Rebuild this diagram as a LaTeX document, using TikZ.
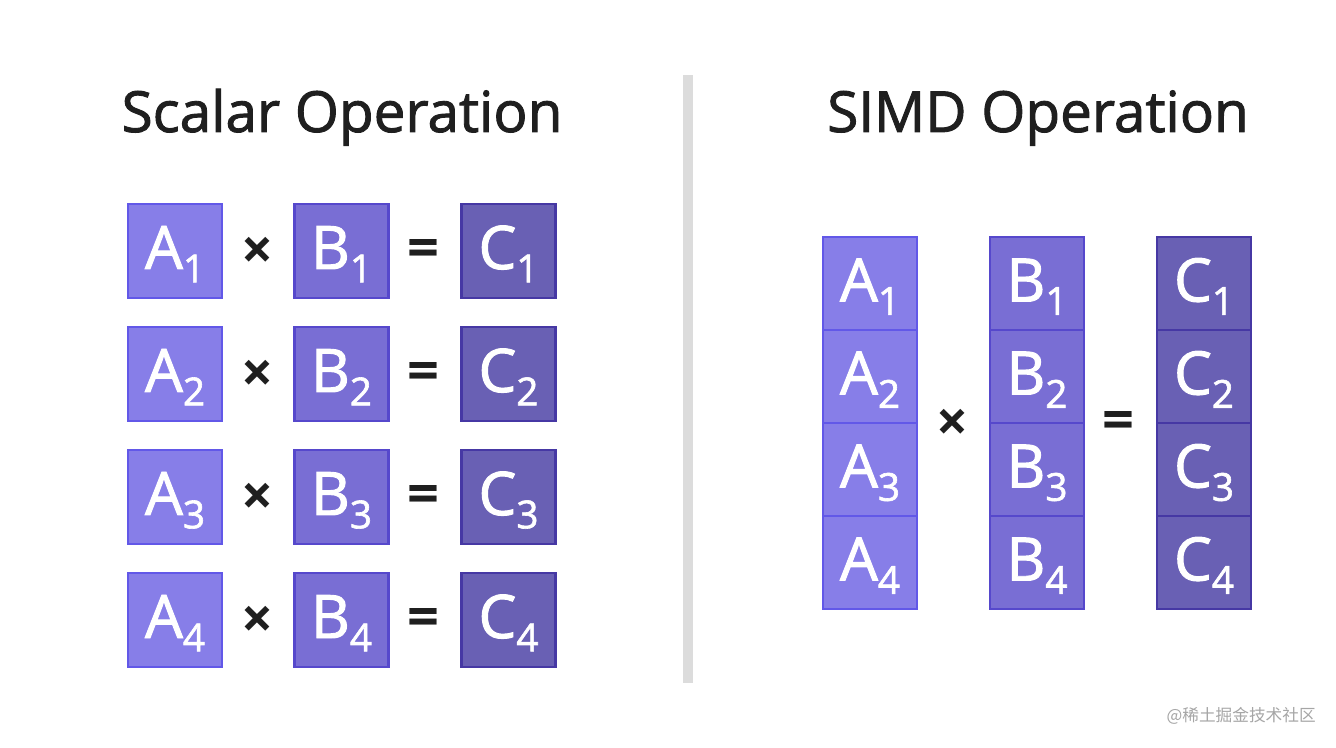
\documentclass[tikz,border=0pt]{standalone}
\usepackage{fontspec}
\setmainfont{Open Sans}
\newfontfamily\semib[FakeBold=1.6]{Open Sans}
\newfontfamily\cjk{Noto Sans CJK SC}
\definecolor{afill}{RGB}{135,126,232}
\definecolor{adraw}{RGB}{98,88,232}
\definecolor{bfill}{RGB}{121,110,212}
\definecolor{bdraw}{RGB}{86,72,204}
\definecolor{cfill}{RGB}{105,96,180}
\definecolor{cdraw}{RGB}{70,56,164}
\definecolor{divgray}{RGB}{220,220,220}
\newcommand{\cell}[2]{\semib\fontsize{45pt}{45pt}\selectfont #1\raisebox{-10pt}{\fontsize{29pt}{29pt}\selectfont #2}}
\tikzset{
  cellbox/.style={rectangle, minimum width=94*0.75pt, minimum height=94*0.75pt, line width=2.4*0.75pt, text=white, text height=27pt, text depth=0pt, inner sep=0pt},
  tallcell/.style={cellbox, minimum height=93*0.75pt},
  acell/.style={fill=afill, draw=adraw},
  bcell/.style={fill=bfill, draw=bdraw},
  ccell/.style={fill=cfill, draw=cdraw},
  optext/.style={font=\fontsize{42pt}{42pt}\selectfont\bfseries, text=black!88, inner sep=0pt, yshift=-2pt},
  titletext/.style={font=\semib\fontsize{42.5pt}{42.5pt}\selectfont, text=black!88, anchor=base, inner sep=0pt},
}
\begin{document}
\begin{tikzpicture}[x=0.75pt,y=-0.75pt]
\useasboundingbox[fill=white] (0,0) rectangle (1336,748);
\node[titletext] (t1) at (342,132) {Scalar Operation};
\node[titletext] (t2) at (1038,132) {SIMD Operation};
\fill[divgray] (683,75) rectangle (693,683);
% left scalar
\foreach \i/\y in {1/251,2/374,3/497,4/620}{
  \node[cellbox,acell] (la\i) at (175,\y) {\cell{A}{\i}};
  \node[cellbox,bcell] (lb\i) at (341.5,\y) {\cell{B}{\i}};
  \node[cellbox,ccell] (lc\i) at (508.5,\y) {\cell{C}{\i}};
  \node[optext] (lx\i) at (257,\y) {×};
  \node[optext] (le\i) at (423,\y) {=};
}
% right SIMD
\foreach \i/\y in {1/283.5,2/376.5,3/469.5,4/562.5}{
  \node[tallcell,acell] (ra\i) at (870,\y) {\cell{A}{\i}};
  \node[tallcell,bcell] (rb\i) at (1037,\y) {\cell{B}{\i}};
  \node[tallcell,ccell] (rc\i) at (1204,\y) {\cell{C}{\i}};
}
\node[optext] (rx) at (952,423) {×};
\node[optext] (re) at (1118,423) {=};
\node[font=\cjk\fontsize{12.5pt}{12.5pt}\selectfont, text=black!35, anchor=east, inner sep=0pt] (wm) at (1316,716) {@稀土掘金技术社区};
\end{tikzpicture}
\end{document}
